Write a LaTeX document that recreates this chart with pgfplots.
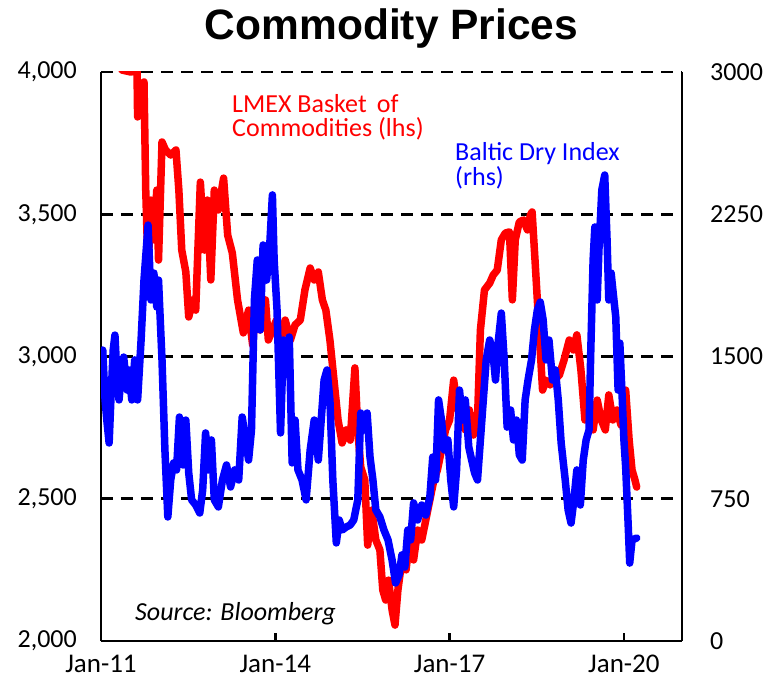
\documentclass[border=0pt]{standalone}
\usepackage{fontspec}
\setmainfont{Carlito}
\newfontfamily\titlefont{Liberation Sans}
\usepackage{pgfplots}
\pgfplotsset{compat=1.18}
\begin{document}
\begin{tikzpicture}
\begin{axis}[
  at={(0,0)}, anchor=south west,
  width=581pt, height=569pt, scale only axis,
  xmin=2011, xmax=2021, ymin=2000, ymax=4000,
  axis x line*=bottom, axis y line*=left,
  axis line style={line width=2.6pt, -},
  xtick={2011,2014,2017,2020},
  xticklabels={Jan-11,Jan-14,Jan-17,Jan-20},
  ytick={2000,2500,3000,3500,4000},
  yticklabels={{2,000},{2,500},{3,000},{3,500},{4,000}},
  tick align=inside,
  major tick length=8pt,
  xtick style={line width=2.6pt, black},
  ytick style={draw=none},
  ymajorgrids,
  grid style={line width=2.6pt, black, dash pattern=on 12pt off 8pt},
  ticklabel style={font=\fontsize{26}{30}\selectfont, inner sep=0pt},
  yticklabel style={anchor=east, xshift=-24pt},
  xticklabel style={anchor=base, yshift=-31pt, font=\fontsize{27}{30}\selectfont},
  title={\titlefont\bfseries Commodity Prices},
  title style={font=\fontsize{42.5}{48}\selectfont, at={(0.5,1)}, anchor=base, yshift=26pt, inner sep=0pt},
]
\addplot[red, line width=7.5pt, line join=round, line cap=round] coordinates {
(2011.36,4007)(2011.51,4000)(2011.62,4004)(2011.63,3842)(2011.69,3954)(2011.74,3965)(2011.77,3585)(2011.81,3304)(2011.86,3550)(2011.91,3410)(2011.96,3585)(2011.99,3339)(2012.05,3754)(2012.11,3726)(2012.20,3708)(2012.29,3726)(2012.34,3585)(2012.39,3374)(2012.46,3297)(2012.51,3139)(2012.58,3199)(2012.63,3163)(2012.71,3613)(2012.78,3374)(2012.83,3550)(2012.89,3269)(2012.95,3585)(2013.02,3515)(2013.11,3627)(2013.18,3427)(2013.26,3364)(2013.35,3199)(2013.45,3083)(2013.54,3163)(2013.61,3040)(2013.67,3199)(2013.74,3093)(2013.83,3199)(2013.88,3058)(2013.95,3093)(2014.02,3128)(2014.09,3058)(2014.17,3128)(2014.26,3058)(2014.34,3111)(2014.43,3128)(2014.51,3234)(2014.60,3311)(2014.67,3269)(2014.74,3297)(2014.81,3199)(2014.87,3163)(2014.94,3058)(2015.01,2917)(2015.08,2777)(2015.15,2696)(2015.22,2742)(2015.29,2706)(2015.37,2960)(2015.42,2742)(2015.47,2612)(2015.54,2566)(2015.59,2337)(2015.66,2460)(2015.73,2355)(2015.80,2320)(2015.85,2179)(2015.90,2144)(2015.95,2214)(2016.01,2109)(2016.06,2056)(2016.11,2179)(2016.18,2285)(2016.25,2250)(2016.31,2355)(2016.38,2285)(2016.45,2390)(2016.52,2355)(2016.59,2425)(2016.66,2496)(2016.73,2566)(2016.79,2601)(2016.86,2671)(2016.93,2742)(2017.00,2777)(2017.07,2917)(2017.14,2812)(2017.21,2847)(2017.27,2742)(2017.34,2812)(2017.41,2724)(2017.48,2777)(2017.53,3093)(2017.60,3234)(2017.69,3258)(2017.75,3286)(2017.82,3304)(2017.89,3410)(2017.96,3434)(2018.03,3438)(2018.08,3199)(2018.13,3410)(2018.20,3473)(2018.27,3480)(2018.34,3445)(2018.39,3497)(2018.42,3508)(2018.47,3339)(2018.54,3093)(2018.60,2882)(2018.66,2917)(2018.73,2900)(2018.80,2917)(2018.89,2935)(2018.97,2988)(2019.06,3058)(2019.13,3023)(2019.19,3076)(2019.26,2953)(2019.33,2777)(2019.40,2812)(2019.47,2742)(2019.54,2847)(2019.61,2777)(2019.68,2742)(2019.74,2865)(2019.81,2777)(2019.88,2812)(2019.95,2759)(2020.03,2882)(2020.09,2706)(2020.14,2601)(2020.19,2566)(2020.22,2541)
};
\end{axis}
\begin{axis}[
  at={(0,0)}, anchor=south west,
  width=581pt, height=569pt, scale only axis,
  xmin=2011, xmax=2021, ymin=0, ymax=3000,
  axis y line*=right, axis x line=none,
  axis line style={line width=2.6pt, -},
  ytick={0,750,1500,2250,3000},
  yticklabels={0,750,1500,2250,3000},
  ytick style={draw=none},
  yticklabel style={font=\fontsize{26}{30}\selectfont, inner sep=0pt, anchor=west, xshift=28pt},
]
\addplot[blue, line width=7.5pt, line join=round, line cap=round] coordinates {
(2011.03,1534)(2011.07,1271)(2011.10,1165)(2011.14,1044)(2011.17,1271)(2011.21,1534)(2011.24,1613)(2011.27,1429)(2011.31,1271)(2011.34,1376)(2011.39,1497)(2011.45,1323)(2011.48,1429)(2011.53,1271)(2011.58,1482)(2011.63,1271)(2011.69,1587)(2011.74,1903)(2011.81,2193)(2011.86,1798)(2011.91,1940)(2011.96,1761)(2011.99,1903)(2012.05,1482)(2012.10,1007)(2012.15,654)(2012.20,849)(2012.25,939)(2012.30,902)(2012.35,1181)(2012.41,928)(2012.46,1165)(2012.51,886)(2012.56,744)(2012.63,717)(2012.70,675)(2012.75,796)(2012.80,1097)(2012.85,902)(2012.90,1060)(2012.95,744)(2013.02,707)(2013.09,849)(2013.16,928)(2013.23,812)(2013.30,902)(2013.37,849)(2013.43,1181)(2013.49,1060)(2013.54,954)(2013.59,1113)(2013.64,1798)(2013.69,2009)(2013.74,1640)(2013.79,2088)(2013.85,1903)(2013.90,2062)(2013.95,2352)(2013.98,2009)(2014.03,1745)(2014.09,1097)(2014.14,1587)(2014.19,1413)(2014.24,1603)(2014.29,939)(2014.34,1165)(2014.39,902)(2014.46,849)(2014.53,744)(2014.60,1007)(2014.67,1165)(2014.74,954)(2014.79,1165)(2014.84,1376)(2014.89,1429)(2014.94,1271)(2014.99,849)(2015.05,517)(2015.10,638)(2015.15,585)(2015.22,601)(2015.29,612)(2015.35,638)(2015.42,744)(2015.47,1202)(2015.53,1113)(2015.58,1202)(2015.63,970)(2015.68,849)(2015.73,691)(2015.80,654)(2015.87,585)(2015.94,533)(2016.01,427)(2016.07,306)(2016.13,348)(2016.18,454)(2016.23,390)(2016.28,585)(2016.33,533)(2016.38,728)(2016.45,638)(2016.52,717)(2016.59,664)(2016.66,759)(2016.71,970)(2016.76,849)(2016.81,1271)(2016.86,1165)(2016.91,1007)(2016.97,1060)(2017.02,849)(2017.07,707)(2017.12,902)(2017.17,1323)(2017.22,1165)(2017.27,1271)(2017.33,1023)(2017.38,954)(2017.43,886)(2017.48,849)(2017.53,1060)(2017.58,1271)(2017.63,1482)(2017.69,1587)(2017.74,1534)(2017.79,1376)(2017.84,1587)(2017.89,1729)(2017.94,1482)(2017.99,1128)(2018.05,1218)(2018.10,1060)(2018.15,1165)(2018.20,981)(2018.25,954)(2018.30,1271)(2018.35,1376)(2018.41,1482)(2018.46,1640)(2018.51,1745)(2018.56,1787)(2018.61,1693)(2018.66,1482)(2018.71,1587)(2018.77,1376)(2018.82,1429)(2018.87,1271)(2018.92,1044)(2018.99,849)(2019.04,691)(2019.09,622)(2019.14,744)(2019.19,902)(2019.25,717)(2019.30,954)(2019.35,1060)(2019.40,1113)(2019.43,1534)(2019.47,2009)(2019.50,2183)(2019.54,1798)(2019.57,2062)(2019.62,2378)(2019.67,2457)(2019.71,2114)(2019.74,1798)(2019.78,1940)(2019.81,1851)(2019.86,1708)(2019.90,1323)(2019.93,1571)(2019.97,1287)(2020.00,1060)(2020.03,918)(2020.07,638)(2020.10,411)(2020.14,533)(2020.22,543)
};
\node[anchor=base west, text=red, font=\fontsize{26}{30}\selectfont, inner sep=0pt] at (rel axis cs:0.2255,0.9297) {LMEX Basket\ \,of};
\node[anchor=base west, text=red, font=\fontsize{26}{30}\selectfont, inner sep=0pt] at (rel axis cs:0.2255,0.8858) {Commodities (lhs)};
\node[anchor=base west, text=blue, font=\fontsize{26}{30}\selectfont, inner sep=0pt] at (rel axis cs:0.6093,0.8436) {Baltic Dry Index};
\node[anchor=base west, text=blue, font=\fontsize{26}{30}\selectfont, inner sep=0pt] at (rel axis cs:0.6093,0.8014) {(rhs)};
\node[anchor=base west, text=black, font=\fontsize{26}{30}\selectfont\itshape, inner sep=0pt] at (rel axis cs:0.0585,0.0369) {Source: Bloomberg};
\end{axis}
\pgfresetboundingbox
\path[use as bounding box] (-101pt,-37pt) rectangle (666pt,641pt);
\end{tikzpicture}
\end{document}
